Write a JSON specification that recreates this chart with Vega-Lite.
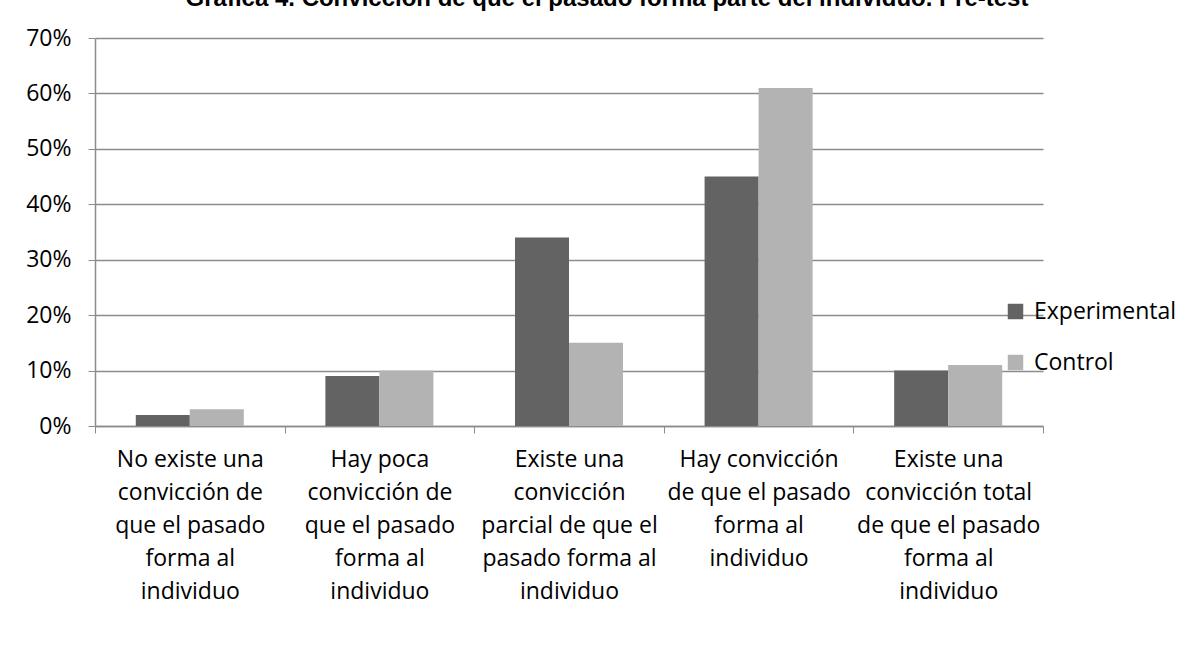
{
  "$schema": "https://vega.github.io/schema/vega-lite/v6.json",
  "autosize": "none",
  "width": 948,
  "height": 388,
  "padding": {"left": 95, "top": 38, "right": 144, "bottom": 229},
  "background": "white",
  "title": {
    "text": "Gráfica 4. Convicción de que el pasado forma parte del individuo. Pre-test",
    "font": "Liberation Sans",
    "fontSize": 24,
    "fontWeight": "bold",
    "color": "#000000",
    "anchor": "middle",
    "frame": "group",
    "baseline": "alphabetic",
    "offset": -3,
    "dx": 38
  },
  "data": {
    "values": [
      {"categoria": "No existe una convicción de que el pasado forma al individuo", "grupo": "Experimental", "valor": 0.02},
      {"categoria": "No existe una convicción de que el pasado forma al individuo", "grupo": "Control", "valor": 0.03},
      {"categoria": "Hay poca convicción de que el pasado forma al individuo", "grupo": "Experimental", "valor": 0.09},
      {"categoria": "Hay poca convicción de que el pasado forma al individuo", "grupo": "Control", "valor": 0.10},
      {"categoria": "Existe una convicción parcial de que el pasado forma al individuo", "grupo": "Experimental", "valor": 0.34},
      {"categoria": "Existe una convicción parcial de que el pasado forma al individuo", "grupo": "Control", "valor": 0.15},
      {"categoria": "Hay convicción de que el pasado forma al individuo", "grupo": "Experimental", "valor": 0.45},
      {"categoria": "Hay convicción de que el pasado forma al individuo", "grupo": "Control", "valor": 0.61},
      {"categoria": "Existe una convicción total de que el pasado forma al individuo", "grupo": "Experimental", "valor": 0.10},
      {"categoria": "Existe una convicción total de que el pasado forma al individuo", "grupo": "Control", "valor": 0.11}
    ]
  },
  "mark": {"type": "bar"},
  "encoding": {
    "x": {
      "field": "categoria",
      "type": "nominal",
      "sort": null,
      "scale": {"paddingInner": 0, "paddingOuter": 0},
      "axis": {
        "title": null,
        "labelAngle": 0,
        "labelFont": "Open Sans",
        "labelFontSize": 23,
        "labelColor": "#000000",
        "labelLineHeight": 33,
        "labelPadding": 15,
        "labelLimit": 0,
        "tickBand": "extent",
        "tickSize": 7,
        "tickColor": "#8c8c8c",
        "domainColor": "#8c8c8c",
        "domainWidth": 1.5,
        "grid": false,
        "labelExpr": "datum.value == 'No existe una convicción de que el pasado forma al individuo' ? ['No existe una','convicción de','que el pasado','forma al','individuo'] : datum.value == 'Hay poca convicción de que el pasado forma al individuo' ? ['Hay poca','convicción de','que el pasado','forma al','individuo'] : datum.value == 'Existe una convicción parcial de que el pasado forma al individuo' ? ['Existe una','convicción','parcial de que el','pasado forma al','individuo'] : datum.value == 'Hay convicción de que el pasado forma al individuo' ? ['Hay convicción','de que el pasado','forma al','individuo'] : datum.value == 'Existe una convicción total de que el pasado forma al individuo' ? ['Existe una','convicción total','de que el pasado','forma al','individuo'] : ''"
      }
    },
    "xOffset": {
      "field": "grupo",
      "type": "nominal",
      "sort": ["Experimental", "Control"],
      "scale": {"paddingInner": 0, "paddingOuter": 0.755}
    },
    "y": {
      "field": "valor",
      "type": "quantitative",
      "scale": {"domain": [0, 0.7]},
      "axis": {
        "title": null,
        "format": ".0%",
        "values": [0, 0.1, 0.2, 0.3, 0.4, 0.5, 0.6, 0.7],
        "labelFont": "Open Sans",
        "labelFontSize": 23,
        "labelColor": "#000000",
        "labelPadding": 17,
        "tickSize": 7,
        "tickColor": "#8c8c8c",
        "domainColor": "#8c8c8c",
        "domainWidth": 1.5,
        "gridColor": "#8c8c8c",
        "gridWidth": 1.5
      }
    },
    "color": {
      "field": "grupo",
      "type": "nominal",
      "sort": ["Experimental", "Control"],
      "scale": {"domain": ["Experimental", "Control"], "range": ["#636363", "#b3b3b3"]},
      "legend": {
        "title": null,
        "orient": "none",
        "legendX": 909,
        "legendY": 262,
        "padding": 0,
        "symbolType": "square",
        "symbolSize": 240,
        "symbolStrokeWidth": 0,
        "labelFont": "Open Sans",
        "labelFontSize": 23,
        "labelColor": "#000000",
        "labelOffset": 7,
        "rowPadding": 27
      }
    }
  },
  "config": {
    "view": {"stroke": null}
  }
}
